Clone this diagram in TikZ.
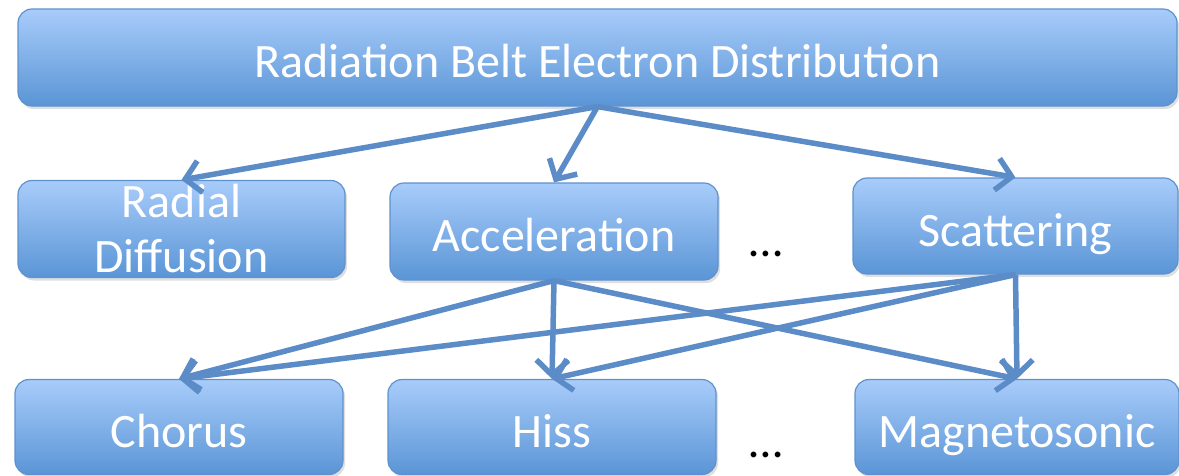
\documentclass[tikz,border=0pt]{standalone}
\usepackage{fontspec}
\setmainfont{Carlito}
\usetikzlibrary{arrows.meta,shadows}
\definecolor{boxtop}{HTML}{A8CCFA}
\definecolor{boxbot}{HTML}{5A95D6}
\definecolor{boxedge}{HTML}{5F92CD}
\definecolor{linkblue}{HTML}{5B8CC8}
\tikzset{
  belt/.style={rounded corners=14pt, draw=boxedge, line width=1.2pt,
    top color=boxtop, bottom color=boxbot, text=white,
    font=\fontsize{48}{55}\selectfont, inner sep=0pt,
    drop shadow={shadow xshift=2pt, shadow yshift=-3pt, opacity=0.25}},
  oneline/.style={belt, text height=40pt, text depth=0pt},
  link/.style={draw=linkblue, line width=5.5pt,
    -{Straight Barb[length=15pt, width=32pt]}},
  gap/.style={font=\fontsize{48}{55}\selectfont}
}

\begin{document}
\begin{tikzpicture}[x=1pt, y=-1pt]
		%%%%% START %%%%%
		\useasboundingbox (0, 0) rectangle (1179, 475);
		
		\node[oneline, minimum width=1159pt, minimum height=97pt] (dist) at (597.5, 57.5) {Radiation Belt Electron Distribution};
		
		\node[belt, align=center, minimum width=327pt, minimum height=97pt] (radial) at (181.5, 229) {Radial\\Diffusion};
		\node[oneline, minimum width=328pt, minimum height=97pt] (accel) at (554, 231.5) {Acceleration};
		\node[oneline, minimum width=325pt, minimum height=96pt] (scatter) at (1015.5, 226) {Scattering};
		\node[gap] (dotsmid) at (766, 254) {\ldots};
		
		\node[oneline, minimum width=328pt, minimum height=95pt] (chorus) at (179, 427) {Chorus};
		\node[oneline, minimum width=328pt, minimum height=95pt] (hiss) at (552, 427) {Hiss};
		\node[oneline, minimum width=324pt, minimum height=95pt] (magneto) at (1017, 427) {Magnetosonic};
		\node[gap] (dotslow) at (766, 455) {\ldots};
		
		\draw[link] (dist.south) -- (radial.north);
		\draw[link] (dist.south) -- (accel.north);
		\draw[link] (dist.south) -- (scatter.north);
		
		\draw[link] (accel.south) -- (chorus.north);
		\draw[link] (accel.south) -- (hiss.north);
		\draw[link] (accel.south) -- (magneto.north);
		
		\draw[link] (scatter.south) -- (chorus.north);
		\draw[link] (scatter.south) -- (hiss.north);
		\draw[link] (scatter.south) -- (magneto.north);
		
		%%%%% END %%%%%
	\end{tikzpicture}
\end{document}
